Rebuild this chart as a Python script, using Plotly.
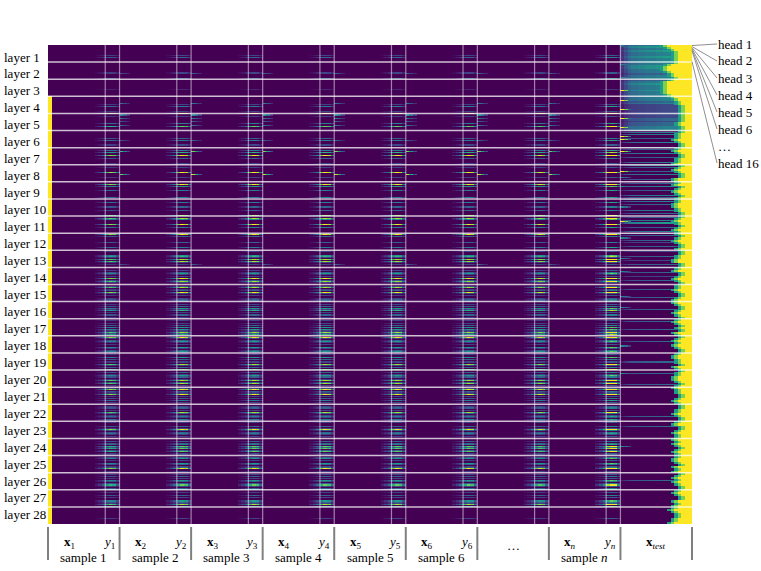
import numpy as np
import plotly.graph_objects as go

N_LAYERS = 28
N_HEADS = 16
X_LEN = 16      # prompt tokens per sample
Y_LEN = 4       # answer tokens per sample
SEG_LEN = X_LEN + Y_LEN
N_SEG = 8       # sample 1..6, "...", sample n
TEST_LEN = 20

SEGMENT_LABELS = ["1", "2", "3", "4", "5", "6", None, "<i>n</i>"]

# attention on the first (BOS) token, per layer
BOS_LEVEL = [0.0, 0.0, 0.0] + [1.0] * 25

# attention on the answer tokens y_i, per layer, one digit (0-9) per head
Y_HEADS = [
    "0000000002030000",  # layer 1
    "0000000002200003",
    "0000000001000000",
    "0000000204000020",
    "9020000004007000",
    "0000000304000200",
    "0040600900300020",
    "0020000900020000",
    "0090500040000040",
    "0004000300300008",
    "0085000900400000",
    "0903000030000400",
    "0200562080820200",
    "0020352020903820",
    "0280230920200232",  # layer 15
    "0020305260203020",
    "0200203050528360",
    "0920352020520352",
    "0200503020820307",
    "0030253028038020",
    "0290329020304020",
    "0023020830242042",
    "0200302930342020",
    "0030340737037020",
    "0350200530239020",
    "0203020530372035",
    "0020030200532805",
    "0000000000200000",  # layer 28
]
# relative strength over the answer tokens and the last prompt tokens
Y_PROFILE = [0.8, 1.0, 0.9, 0.45]
X_TAIL = [0.12, 0.25, 0.45]

# attention on the first prompt tokens of the following sample
SPILL_HEADS = [
    "0000000000000000",
    "0000000000300000",
    "0000000000000000",
    "0000004000000000",
    "0500400300040000",
    "0000000003000000",
    "0008000000000000",
    "0000000009000000",
    "0000000000000000",
    "0000000000000000",
    "0000000000000000",
    "0000000000000000",
    "0000000000000300",
    "0000000000000000",
] + ["0000000000000000"] * 14
SPILL_PROFILE = [0.9, 0.6, 0.3]

# overall strength per segment
SEG_GAIN = [0.85, 1.0, 1.0, 1.0, 1.0, 1.0, 0.95, 1.4]

# x_test: bright spots on the first test tokens
TEST_START = [
    "3300000000000000",
    "0040000000000040",
    "0000000000900000",
    "0009000000009000",
    "0000900000000900",
    "0000090090000000",
    "0009000000000000",
    "0000009000040000",
    "0000400000000000",
    "0000000400000000",
    "0000090000000000",
    "0000400000000000",
    "0000000400000000",
    "0004000000000000",
    "0000000000040000",
    "0000040000000000",
    "0000000000000000",
    "0000000004000000",
    "0000000000000000",
    "0004000000000000",
    "0000000000000000",
    "0000000000000000",
    "0000000000000000",
    "0000000400000000",
    "0000000000000000",
    "0000000000000000",
    "0000000000000000",
    "0000000000000000",
]
# x_test: level of the body of the test prompt
TEST_BODY = [
    "4554455444554445",
    "4445554444334445",
    "2344544444544444",
    "4444334222222222",
    "2222333233334444",
    "0404000300040003",
    "0300040003000400",
    "4030003004000300",
    "0300400030004030",
    "4040030000400300",
    "0300405000300040",
    "2030003020003000",
    "0200030002000300",
    "2000300020003000",
    "0000300000003000",
    "0000000300000000",
    "0030000000300000",
    "0000030000000000",
    "0000000030000000",
    "0003000000000300",
    "0000000000000000",
    "0000000000030000",
    "0000300000000000",
    "0000000000000000",
    "0000000000000000",
    "0000000300000000",
    "0000000000000000",
    "0000000000000000",
]
# x_test: number of yellow tokens at the end of the prompt, per head
TEST_YELLOW = [
    "7766554444444444",
    "4466777766555544",
    "5577777777777766",
    "5544333322222222",
    "2222222233332222",
    "2233333344332222",
    "3344332222333344",
    "2233443322224444",
    "3344223344332233",
    "3333444433332222",
    "2233443322334433",
    "3322334433222233",
    "2222333344442222",
    "3344222233443322",
    "3333443322223344",
    "4433222233443322",
    "3344332233224433",
    "2233443344332222",
    "3344443333224433",
    "2233334444332233",
    "4433332222334433",
    "2222333344332222",
    "3344222233443333",
    "4433443322334433",
    "3344443322443344",
    "2233443344332222",
    "3344332222443344",
    "4455443333444455",
]
# relative strength along the test prompt
TEST_PROFILE = [0.3, 0.5, 0.7, 0.8, 0.8, 0.85, 0.85, 0.9, 0.9, 0.9,
                0.95, 0.95, 1, 1, 1, 1, 1, 1, 1, 1]
START_PROFILE = [1.0, 0.8, 0.4]
RAMP_EDGE = [0.55, 0.8]

HEAD_LABELS = ["head 1", "head 2", "head 3", "head 4", "head 5", "head 6", "…", "head 16"]
HEAD_LABEL_HEADS = [1, 2, 3, 4, 5, 6, None, 16]


def digits(s):
    return np.array([int(c) / 9 for c in s])


n_rows = N_LAYERS * N_HEADS
n_cols = N_SEG * SEG_LEN + TEST_LEN
z = np.zeros((n_rows, n_cols))
t0 = N_SEG * SEG_LEN

for l in range(N_LAYERS):
    r = slice(l * N_HEADS, (l + 1) * N_HEADS)
    yh = digits(Y_HEADS[l])
    sp = digits(SPILL_HEADS[l])
    for s in range(N_SEG):
        c0 = s * SEG_LEN
        g = SEG_GAIN[s]
        for k, p in enumerate(Y_PROFILE):
            c = c0 + X_LEN + k
            z[r, c] = np.maximum(z[r, c], yh * p * g)
        for k, p in enumerate(X_TAIL):
            c = c0 + X_LEN - len(X_TAIL) + k
            z[r, c] = np.maximum(z[r, c], yh * p * g)
        if s < N_SEG - 1:
            for k, p in enumerate(SPILL_PROFILE):
                c = c0 + SEG_LEN + k
                z[r, c] = np.maximum(z[r, c], sp * p * g)
    z[r, 0] = BOS_LEVEL[l]

    body = digits(TEST_BODY[l])
    start = digits(TEST_START[l])
    yel = [int(c) for c in TEST_YELLOW[l]]
    for t in range(TEST_LEN):
        z[r, t0 + t] = body * TEST_PROFILE[t]
    for k, p in enumerate(START_PROFILE):
        z[r, t0 + k] = np.maximum(z[r, t0 + k], start * p)
    for h in range(N_HEADS):
        row = l * N_HEADS + h
        n = yel[h]
        if n == 0:
            continue
        z[row, n_cols - n:] = 1.0
        for k, p in enumerate(RAMP_EDGE):
            c = n_cols - n - len(RAMP_EDGE) + k
            z[row, c] = max(z[row, c], p)

fig = go.Figure()
fig.add_trace(
    go.Heatmap(
        z=z,
        x=list(range(n_cols)),
        y=list(range(n_rows)),
        colorscale="Viridis",
        zmin=0,
        zmax=1,
        showscale=False,
        hoverinfo="skip",
    )
)

shapes = []
# layer separators
for l in range(1, N_LAYERS):
    shapes.append(dict(type="line", xref="paper", yref="y", x0=0, x1=1,
                       y0=l * N_HEADS - 0.5, y1=l * N_HEADS - 0.5,
                       line=dict(color="rgba(255,255,255,0.75)", width=1.5)))
# answer / sample boundaries inside the map
for s in range(N_SEG):
    for c in (s * SEG_LEN + X_LEN - 0.5, (s + 1) * SEG_LEN - 0.5):
        shapes.append(dict(type="line", xref="x", yref="paper", x0=c, x1=c,
                           y0=0, y1=1,
                           line=dict(color="rgba(255,255,255,0.5)", width=1.2)))


def py(p):
    # pixel row of the page -> paper y
    return (524 - p) / 479


def px(p):
    # pixel column of the page -> paper x
    return (p - 48) / 644


# separators below the map
for k in range(N_SEG + 2):
    xp = k / (N_SEG + 1)
    shapes.append(dict(type="line", xref="paper", yref="paper", x0=xp, x1=xp,
                       y0=py(527), y1=py(560),
                       line=dict(color="#808080", width=2)))

annotations = []
font = dict(family="Liberation Serif", size=13, color="black")


def label(text, x, y, xref="paper", xanchor="center"):
    annotations.append(dict(text=text, x=x, y=y, xref=xref, yref="paper",
                            xanchor=xanchor, yanchor="middle", showarrow=False, font=font))


# layer labels, left aligned
for l in range(N_LAYERS):
    label(f"layer {l + 1}", px(2), py(57 + l * 16.96), xanchor="left")

for s in range(N_SEG):
    c0 = s * SEG_LEN - 0.5
    lab = SEGMENT_LABELS[s]
    if lab is None:
        label("…", c0 + SEG_LEN / 2, py(545), xref="x")
        continue
    label(f"<b>x</b><sub>{lab}</sub>", c0 + 3.8, py(542), xref="x", xanchor="left")
    label(f"<i>y</i><sub>{lab}</sub>", c0 + SEG_LEN - 0.7, py(542), xref="x", xanchor="right")
    label(f"sample {lab}", c0 + SEG_LEN / 2, py(557), xref="x")
label("<b>x</b><sub><i>test</i></sub>", t0 - 0.5 + TEST_LEN / 2, py(542), xref="x")

# head labels on the right
label_px = [44, 61, 78, 95, 112, 129, 146, 163]
for lab, h, p in zip(HEAD_LABELS, HEAD_LABEL_HEADS, label_px):
    label(lab, px(716), py(p), xanchor="left")
    if h is not None:
        shapes.append(dict(type="line", xref="paper", yref="paper",
                           x0=1, x1=px(717),
                           y0=py(45 + (h - 0.5) * 479 / n_rows), y1=py(p),
                           line=dict(color="#909090", width=1)))

fig.update_layout(
    width=761,
    height=571,
    margin=dict(l=48, r=69, t=45, b=47, autoexpand=False),
    paper_bgcolor="white",
    plot_bgcolor="white",
    shapes=shapes,
    annotations=annotations,
    xaxis=dict(range=[-0.5, n_cols - 0.5], showticklabels=False, showgrid=False,
               zeroline=False, ticks="", automargin=False),
    yaxis=dict(range=[n_rows - 0.5, -0.5], showticklabels=False, showgrid=False,
               zeroline=False, ticks="", automargin=False),
)

# drop the default page margin so the figure sits at the window's corner
fig.write_html("out.html", config={"displayModeBar": False},
               post_script="document.body.style.margin='0';")
